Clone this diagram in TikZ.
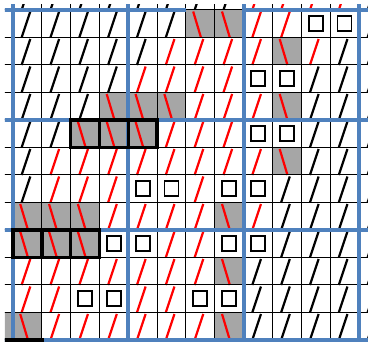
\documentclass[tikz,border=0pt]{standalone}
\definecolor{gridBlue}{RGB}{79,129,189}
\definecolor{cellGray}{RGB}{166,166,166}
\usetikzlibrary{calc}
\newcommand{\cellW}{28.83}
\newcommand{\cellH}{27.5}

\begin{document}
\begin{tikzpicture}[x=1pt, y=-1pt,
    blueline/.style={draw=gridBlue, line width=4pt},
    thinline/.style={draw=black, line width=1pt},
    slash/.style={line width=2.2pt},
    squarebox/.style={draw=black, line width=1.8pt},
    thickbox/.style={draw=black, line width=3.6pt},
    cellb/.pic={\draw[slash, black] ({0.3*\cellW},\cellH) -- ({0.6*\cellW},1.5);},
    cellr/.pic={\draw[slash, red] ({0.3*\cellW},\cellH) -- ({0.6*\cellW},1.5);},
    cellg/.pic={\fill[cellGray] (0,0) rectangle (\cellW,\cellH);
                \draw[slash, red] ({0.25*\cellW},1.5) -- ({0.52*\cellW},\cellH);},
    cells/.pic={\draw[squarebox] ({0.5*\cellW-7},{0.5*\cellH-7.5}) rectangle ({0.5*\cellW+7},{0.5*\cellH+7.5});},
    celln/.pic={\path (0,0);}
  ]
  \useasboundingbox (0,0) rectangle (368,342);
  \clip (5,5) rectangle (368,342);
  \foreach \cells [count=\row from 0] in {
      {n,b,b,b,b,b,b,b,b,r,r,r,r,b},
      {n,b,b,b,b,b,b,g,g,r,r,s,s,b},
      {n,b,b,b,b,b,r,r,r,r,g,r,b,b},
      {n,b,b,b,b,r,r,r,r,s,s,b,b,b},
      {n,b,b,b,g,g,g,r,r,r,g,b,b,b},
      {n,b,b,g,g,g,r,r,r,s,s,b,b,b},
      {n,b,r,r,r,r,r,r,r,r,g,b,b,b},
      {n,b,r,r,r,s,s,r,s,s,b,b,b,b},
      {n,g,g,g,r,r,r,r,g,r,b,b,b,b},
      {n,g,g,g,s,s,r,r,s,s,b,b,b,b},
      {n,r,r,r,r,r,r,r,g,b,b,b,b,b},
      {n,r,r,s,s,r,r,s,s,b,b,b,b,b},
      {g,g,r,r,r,r,r,r,g,b,b,b,b,b}}{
    \foreach \c [count=\col from 0] in \cells
      \pic at ({13+(\col-1)*\cellW},{10+(\row-1)*\cellH}) {cell\c};
  }
  \foreach \k in {0,...,12}{
    \draw[thinline] (0,{10+\k*\cellH}) -- (368,{10+\k*\cellH});
    \draw[thinline] ({13+\k*\cellW},0) -- ({13+\k*\cellW},342);
  }
  \foreach \k in {0,4,8,12}
    \draw[blueline] ({13+\k*\cellW},0) -- ({13+\k*\cellW},342);
  \foreach \k in {4,8,12}
    \draw[blueline] (0,{10+\k*\cellH}) -- (368,{10+\k*\cellH});
  \draw[blueline] (0,10) -- ({13+6*\cellW},10) ({13+8*\cellW},10) -- (368,10);
  \foreach \r/\cl in {5/3,5/4,5/5,9/1,9/2,9/3,13/0,13/1}
    \draw[thickbox] ({13+(\cl-1)*\cellW},{10+(\r-1)*\cellH}) rectangle +(\cellW,\cellH);
\end{tikzpicture}
\end{document}
